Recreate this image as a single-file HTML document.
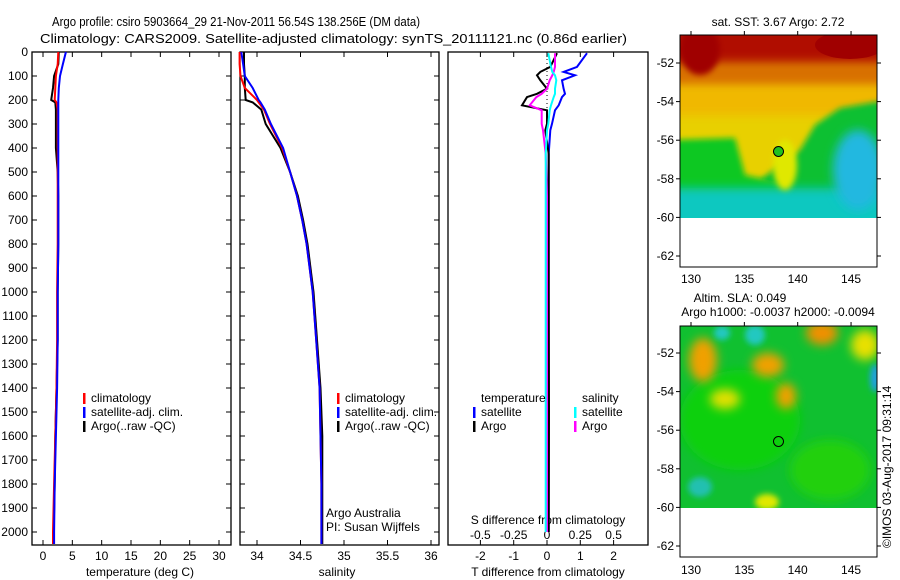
<!DOCTYPE html>
<html><head><meta charset="utf-8"><style>
html,body{margin:0;padding:0;background:#fff;}
svg{display:block;font-family:"Liberation Sans",sans-serif;}
</style></head><body>
<svg id="c" width="900" height="580" viewBox="0 0 900 580">
<defs>
<filter id="bl" x="-50%" y="-50%" width="200%" height="200%"><feGaussianBlur stdDeviation="5"/></filter>
<filter id="bl2" x="-50%" y="-50%" width="200%" height="200%"><feGaussianBlur stdDeviation="3"/></filter>
<clipPath id="m1c"><rect x="680" y="35" width="197" height="183"/></clipPath>
<clipPath id="m2c"><rect x="680" y="326" width="197" height="182"/></clipPath>
</defs>
<text x="52" y="26" font-size="13" textLength="368" lengthAdjust="spacingAndGlyphs">Argo profile: csiro 5903664_29 21-Nov-2011 56.54S 138.256E (DM data)</text>
<text x="40" y="43" font-size="13" textLength="587" lengthAdjust="spacingAndGlyphs">Climatology: CARS2009. Satellite-adjusted climatology: synTS_20111121.nc (0.86d earlier)</text>

<!-- SST map -->
<g clip-path="url(#m1c)">
<rect x="670" y="25" width="217" height="203" fill="#e8d000"/>
<rect x="670" y="25" width="217" height="45" fill="#b01000" filter="url(#bl)"/>
<rect x="670" y="62" width="217" height="28" fill="#d87000" filter="url(#bl)"/>
<rect x="670" y="85" width="217" height="30" fill="#f0b800" filter="url(#bl)"/>
<ellipse cx="850" cy="45" rx="35" ry="14" fill="#a00000"/>
<ellipse cx="700" cy="50" rx="20" ry="25" fill="#a00000" filter="url(#bl2)"/>
<polygon points="800,150 815,125 840,108 887,100 887,228 790,228 780,190 760,180" fill="#10c030" filter="url(#bl2)"/>
<polygon points="670,140 735,138 745,175 790,185 790,228 670,228" fill="#10c820" filter="url(#bl2)"/>
<rect x="670" y="188" width="217" height="40" fill="#10c8c0" filter="url(#bl)"/>
<ellipse cx="858" cy="170" rx="25" ry="40" fill="#20b8e0" filter="url(#bl)"/>
<ellipse cx="785" cy="165" rx="12" ry="25" fill="#e0e800" filter="url(#bl2)"/>
</g>
<rect x="680" y="35" width="197" height="232" fill="none" stroke="#000"/>
<circle cx="778.5" cy="151.5" r="5" fill="#20c020" stroke="#000"/>
<text x="778" y="26" font-size="12" text-anchor="middle">sat. SST: 3.67 Argo: 2.72</text>

<!-- SLA map -->
<g clip-path="url(#m2c)">
<rect x="670" y="316" width="217" height="202" fill="#10c030"/>
<ellipse cx="740" cy="420" rx="60" ry="50" fill="#10d010" filter="url(#bl)"/>
<ellipse cx="830" cy="470" rx="40" ry="30" fill="#20d010" filter="url(#bl)"/>
<ellipse cx="703" cy="360" rx="14" ry="22" fill="#f0a000" filter="url(#bl)"/>
<ellipse cx="768" cy="365" rx="16" ry="12" fill="#f0a000" filter="url(#bl)"/>
<ellipse cx="822" cy="333" rx="16" ry="12" fill="#f09000" filter="url(#bl)"/>
<ellipse cx="786" cy="396" rx="10" ry="13" fill="#f0a000" filter="url(#bl)"/>
<ellipse cx="725" cy="399" rx="15" ry="10" fill="#e0e000" filter="url(#bl)"/>
<ellipse cx="865" cy="345" rx="14" ry="15" fill="#e8e000" filter="url(#bl)"/>
<ellipse cx="767" cy="502" rx="12" ry="8" fill="#e0e800" filter="url(#bl2)"/>
<ellipse cx="700" cy="487" rx="12" ry="10" fill="#20c0b0" filter="url(#bl2)"/>
<ellipse cx="755" cy="335" rx="10" ry="10" fill="#20c8c0" filter="url(#bl2)"/>
<ellipse cx="722" cy="333" rx="8" ry="7" fill="#20c8c0" filter="url(#bl2)"/>
<ellipse cx="875" cy="378" rx="5" ry="14" fill="#20a0e0" filter="url(#bl2)"/>
</g>
<rect x="680" y="326" width="197" height="231" fill="none" stroke="#000"/>
<circle cx="778.5" cy="441.5" r="5" fill="none" stroke="#000"/>
<text x="740" y="302" font-size="12" text-anchor="middle">Altim. SLA: 0.049</text>
<text x="778" y="316" font-size="12" text-anchor="middle">Argo h1000: -0.0037 h2000: -0.0094</text>
<text transform="translate(891,548) rotate(-90)" font-size="12">©IMOS 03-Aug-2017 09:31:14</text>
<g id="axes"></g>
</svg>
<script>
// depth grid (m)
const depths=[0,50,100,150,200,210,240,300,400,500,600,700,800,1000,1200,1400,1600,1800,2000,2050];
// temperature (deg C)
const tempClim=[2.6,2.5,2.2,2.1,2.0,2.3,2.5,2.5,2.5,2.5,2.5,2.5,2.5,2.4,2.4,2.3,2.1,1.9,1.7,1.7];
const tempSat =[3.9,3.4,2.9,2.7,2.6,2.6,2.6,2.6,2.6,2.6,2.6,2.6,2.6,2.5,2.5,2.4,2.2,2.0,1.9,1.9];
const tempArgo=[2.7,2.6,1.9,1.7,1.4,2.1,2.2,2.2,2.2,2.5,2.6,2.6,2.6,2.5,2.5,2.3,2.1,2.0,1.8,1.8];
// salinity
const salClim=[33.80,33.80,33.81,33.86,34.00,34.02,34.08,34.15,34.29,34.38,34.46,34.52,34.57,34.64,34.68,34.72,34.73,34.74,34.74,34.74];
const salSat =[33.82,33.84,33.86,33.95,34.02,34.04,34.09,34.16,34.30,34.38,34.46,34.52,34.57,34.64,34.68,34.72,34.73,34.74,34.74,34.74];
const salArgo=[33.85,33.85,33.86,33.86,33.87,33.95,34.05,34.10,34.27,34.38,34.47,34.53,34.58,34.65,34.69,34.73,34.75,34.75,34.75,34.75];
// differences
const dDepths=[5,62,83,97,118,153,174,188,222,243,299,326,424,600,1000,1500,2000];
const dTSat =[1.2,0.9,0.5,0.84,0.45,0.5,0.54,0.45,0.35,0.24,0.15,0.1,0.05,0.05,0.05,0.05,0.05];
const dTArgo=[0.3,0.1,-0.2,-0.3,-0.2,0,-0.3,-0.6,-0.75,0,0,-0.05,0.05,0.05,0.05,0.06,0.05];
const dSSat =[0.01,0.03,0.04,0.06,0.07,0.06,0.06,0.05,0.03,0.02,0.01,0,-0.01,-0.01,-0.01,-0.01,-0.01];
const dSArgo=[0.06,0.06,0.05,0.04,0.02,0,-0.04,-0.08,-0.13,-0.04,-0.04,-0.03,-0.01,0,0,0,0];
const depthTicks=[0,100,200,300,400,500,600,700,800,900,1000,1100,1200,1300,1400,1500,1600,1700,1800,1900,2000];
const tTicks=[0,5,10,15,20,25,30];
const sTicks=[34,34.5,35,35.5,36];
const dtTicks=[-2,-1,0,1,2];
const dsTicks=[-0.5,-0.25,0,0.25,0.5];
const dsTickLabels=["-0.5","-0.25","0","0.25","0.5"];

const NS='http://www.w3.org/2000/svg';
const G=document.getElementById('axes');
const yD=d=>52+d*0.24;
const xT=t=>43+t*5.867;
const xS=s=>257+(s-34)*87;
const xDT=t=>547+t*33.3;
const xDS=s=>547+s*133.2;
function mk(tag,at,parent){const e=document.createElementNS(NS,tag);for(const k in at)e.setAttribute(k,at[k]);(parent||G).appendChild(e);return e;}
function txt(x,y,s,anchor,size){const e=mk('text',{x:x,y:y,'font-size':size||12,'text-anchor':anchor||'start'});e.textContent=s;return e;}
function stepLine(vals,ds,xf,color,name,w){
  let p='';
  for(let i=0;i<vals.length;i++){const x=xf(vals[i]).toFixed(1),y=yD(ds[i]).toFixed(1);p+=(i?'L':'M')+x+','+y;}
  const e=mk('path',{d:p,fill:'none',stroke:color,'stroke-width':w||2});
  
  
}
function frame(x,w,name){const e=mk('rect',{x:x,y:52,width:w,height:493,fill:'none',stroke:'#000','stroke-width':1.3});
  
  }
function legend(x,y,items){items.forEach((it,i)=>{mk('rect',{x:x,y:y+i*14-9,width:2.5,height:11,fill:it[1]});const t=txt(x+8,y+i*14,it[0]);
  
  });}

// panel 1 temperature
frame(32,199,'temperature-panel');
depthTicks.forEach(d=>{mk('line',{x1:32,x2:37,y1:yD(d),y2:yD(d),stroke:'#000'});mk('line',{x1:226,x2:231,y1:yD(d),y2:yD(d),stroke:'#000'});txt(28,yD(d)+4,String(d),'end');});
tTicks.forEach(t=>{mk('line',{x1:xT(t),x2:xT(t),y1:52,y2:57,stroke:'#000'});mk('line',{x1:xT(t),x2:xT(t),y1:540,y2:545,stroke:'#000'});txt(xT(t),560,String(t),'middle');});
txt(140,576,'temperature (deg C)','middle');
stepLine(tempArgo,depths,xT,'#000','temp-argo-line');
stepLine(tempClim,depths,xT,'#f00','temp-climatology-line');
stepLine(tempSat,depths,xT,'#00f','temp-satellite-line');
legend(83,402,[['climatology','#f00'],['satellite-adj. clim.','#00f'],['Argo(..raw -QC)','#000']]);

// panel 2 salinity
frame(240,199,'salinity-panel');
depthTicks.forEach(d=>{mk('line',{x1:240,x2:245,y1:yD(d),y2:yD(d),stroke:'#000'});mk('line',{x1:434,x2:439,y1:yD(d),y2:yD(d),stroke:'#000'});});
sTicks.forEach(s=>{mk('line',{x1:xS(s),x2:xS(s),y1:52,y2:57,stroke:'#000'});mk('line',{x1:xS(s),x2:xS(s),y1:540,y2:545,stroke:'#000'});txt(xS(s),560,String(s),'middle');});
txt(337,576,'salinity','middle');
stepLine(salArgo,depths,xS,'#000','salinity-argo-line');
stepLine(salClim,depths,xS,'#f00','salinity-climatology-line');
stepLine(salSat,depths,xS,'#00f','salinity-satellite-line');
legend(337,402,[['climatology','#f00'],['satellite-adj. clim.','#00f'],['Argo(..raw -QC)','#000']]);
txt(326,517,'Argo Australia');txt(326,531,'PI: Susan Wijffels');

// panel 3 differences
frame(448,200,'difference-panel');
dtTicks.forEach(t=>{mk('line',{x1:xDT(t),x2:xDT(t),y1:52,y2:57,stroke:'#000'});mk('line',{x1:xDT(t),x2:xDT(t),y1:540,y2:545,stroke:'#000'});txt(xDT(t),560,String(t),'middle');});
dsTicks.forEach((s,i)=>{txt(xDS(s),539,dsTickLabels[i],'middle');});
txt(548,524,'S difference from climatology','middle');
txt(548,576,'T difference from climatology','middle');
mk('line',{x1:547,x2:547,y1:55,y2:yD(250),stroke:'#000','stroke-dasharray':'1,3'});
stepLine(dTSat,dDepths,xDT,'#00f','tdiff-satellite-line');
stepLine(dTArgo,dDepths,xDT,'#000','tdiff-argo-line');
stepLine(dSArgo,dDepths,xDS,'#f0f','sdiff-argo-line');
stepLine(dSSat,dDepths,xDS,'#0ff','sdiff-satellite-line');
txt(481,402,'temperature');txt(582,402,'salinity');
legend(473,416,[['satellite','#00f'],['Argo','#000']]);
legend(574,416,[['satellite','#0ff'],['Argo','#f0f']]);

// map axes
const lonTicks=[130,135,140,145];
const latTicks=[-52,-54,-56,-58,-60,-62];
const xLon=l=>691+(l-130)*10.67;
function mapAxes(top,yLat){
  lonTicks.forEach(l=>{mk('line',{x1:xLon(l),x2:xLon(l),y1:top,y2:top-4,stroke:'#000'});});
  latTicks.forEach(a=>{const y=yLat(a);mk('line',{x1:676,x2:680,y1:y,y2:y,stroke:'#000'});mk('line',{x1:877,x2:881,y1:y,y2:y,stroke:'#000'});txt(674,y+4,String(a),'end');});
}
mapAxes(35,a=>63+(-52-a)*19.3);
lonTicks.forEach(l=>txt(xLon(l),283,String(l),'middle'));
mapAxes(326,a=>353+(-52-a)*19.3);
lonTicks.forEach(l=>txt(xLon(l),574,String(l),'middle'));
</script>
</body></html>
